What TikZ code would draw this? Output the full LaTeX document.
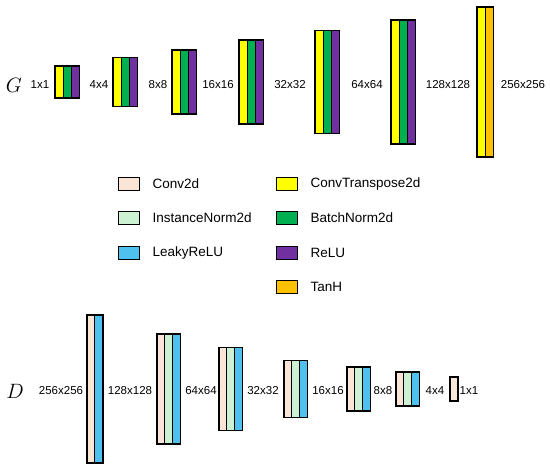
\documentclass[tikz,border=0pt]{standalone}
\usepackage{fontspec}
\setmainfont{Liberation Sans}
\usepackage{tikz}
\usetikzlibrary{positioning}
\usepackage{xcolor}
\definecolor{convpink}{HTML}{FBE5D6}
\definecolor{normmint}{HTML}{CCF2D3}
\definecolor{leakyblue}{HTML}{4FC1EE}
\definecolor{ctyellow}{HTML}{FFFF00}
\definecolor{bngreen}{HTML}{00B050}
\definecolor{relupurple}{HTML}{7030A0}
\definecolor{tanhorange}{HTML}{FFC000}

\begin{document}
\begin{tikzpicture}[
  x=1pt, y=-1pt,
  stripe/.style={draw, line width=1.4pt, minimum width=8.2pt,
                 inner sep=0pt, outer sep=0pt},
  dimlabel/.style={font=\fontsize{11.5}{13}\selectfont},
  netname/.style={font=\fontsize{20}{24}\selectfont},
  legbox/.style={draw, line width=1.2pt, minimum width=21pt,
                 minimum height=13pt, inner sep=0pt},
  legtext/.style={font=\fontsize{13.5}{15}\selectfont, anchor=west},
]
  \useasboundingbox (0,0) rectangle (550,470);
  % Generator
  \node[netname] (gname) at (14,85) {$G$};
  \foreach \n/\l/\h/\cols in {
      1/55/32/{ctyellow,bngreen,relupurple},
      2/113/49/{ctyellow,bngreen,relupurple},
      3/172/64/{ctyellow,bngreen,relupurple},
      4/239/84/{ctyellow,bngreen,relupurple},
      5/315/103/{ctyellow,bngreen,relupurple},
      6/391/124/{ctyellow,bngreen,relupurple},
      7/477/150/{ctyellow,tanhorange}}
    \foreach \c [count=\i] in \cols
      \node[stripe, fill=\c, minimum height=\h pt] (g\n-\i)
        at ({\l+(\i-0.5)*8.2},82) {};
  \foreach \t/\x [count=\k] in {1x1/40, 4x4/99, 8x8/158, 16x16/218,
      32x32/290, 64x64/367, 128x128/448, 256x256/523}
    \node[dimlabel] (gsize\k) at (\x,85) {\t};
  % Legend
  \node[legbox, fill=convpink] (lconv) at (129,184) {};
  \node[legtext, right=9pt of lconv] {Conv2d};
  \node[legbox, fill=normmint] (lnorm) at (129,218) {};
  \node[legtext, right=9pt of lnorm] {InstanceNorm2d};
  \node[legbox, fill=leakyblue] (lleaky) at (129,253) {};
  \node[legtext, right=9pt of lleaky] {LeakyReLU};
  \node[legbox, fill=ctyellow] (lct) at (287,184) {};
  \node[legtext, right=9pt of lct] {ConvTranspose2d};
  \node[legbox, fill=bngreen] (lbn) at (287,218) {};
  \node[legtext, right=9pt of lbn] {BatchNorm2d};
  \node[legbox, fill=relupurple] (lrelu) at (287,253) {};
  \node[legtext, right=9pt of lrelu] {ReLU};
  \node[legbox, fill=tanhorange] (ltanh) at (287,287) {};
  \node[legtext, right=9pt of ltanh] {TanH};
  % Discriminator
  \node[netname] (dname) at (15,391) {$D$};
  \foreach \n/\l/\h/\cols in {
      1/87/148/{convpink,leakyblue},
      2/157/110/{convpink,normmint,leakyblue},
      3/219/83/{convpink,normmint,leakyblue},
      4/284/57/{convpink,normmint,leakyblue},
      5/347/44/{convpink,normmint,leakyblue},
      6/396/34/{convpink,normmint,leakyblue},
      7/450/24/{convpink}}
    \foreach \c [count=\i] in \cols
      \node[stripe, fill=\c, minimum height=\h pt] (d\n-\i)
        at ({\l+(\i-0.5)*7.8},389) {};
  \foreach \t/\x [count=\k] in {256x256/61, 128x128/130, 64x64/201,
      32x32/263, 16x16/328, 8x8/383, 4x4/435, 1x1/469}
    \node[dimlabel] (dsize\k) at (\x,391) {\t};
\end{tikzpicture}
\end{document}
